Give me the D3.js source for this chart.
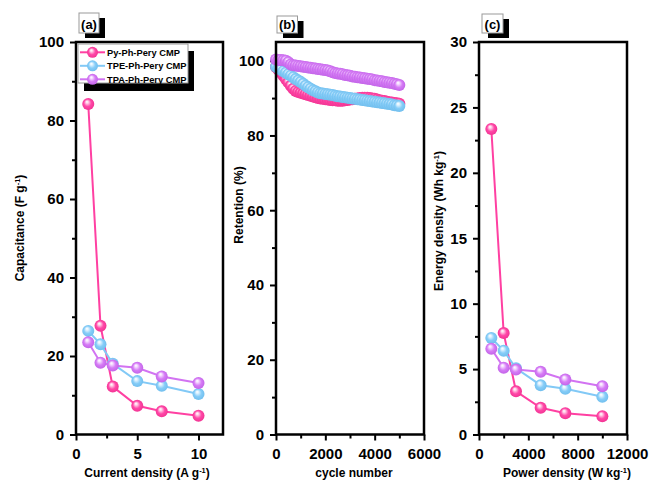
<!DOCTYPE html>
<html>
<head>
<meta charset="utf-8">
<script src="https://cdn.jsdelivr.net/npm/d3@7"></script>
<style>
  body { margin: 0; background: #fff; }
  svg text { font-family: "Liberation Sans", Arial, Helvetica, sans-serif; font-weight: bold; fill: #000; }
</style>
</head>
<body>
<svg id="chart" width="651" height="484"></svg>
<script>
// ---- data ----
const seriesNames = ["Py-Ph-Pery CMP", "TPE-Ph-Pery CMP", "TPA-Ph-Pery CMP"];

// (a) capacitance vs current density
const currentDensity = [1, 2, 3, 5, 7, 10];
const capPy  = [84.2, 27.7, 12.2, 7.3, 5.9, 4.8];
const capTPE = [26.4, 23.0, 18.0, 13.6, 12.4, 10.3];
const capTPA = [23.5, 18.3, 17.6, 17.0, 14.8, 13.1];

// (b) capacity retention over cycling
const cycleNumber = [0, 100, 200, 300, 400, 500, 600, 700, 800, 900,
  1000, 1100, 1200, 1300, 1400, 1500, 1600, 1700, 1800, 1900,
  2000, 2100, 2200, 2300, 2400, 2500, 2600, 2700, 2800, 2900,
  3000, 3100, 3200, 3300, 3400, 3500, 3600, 3700, 3800, 3900,
  4000, 4100, 4200, 4300, 4400, 4500, 4600, 4700, 4800, 4900, 5000];
const retPy = [98.3, 97.6, 96.8, 96.0, 95.1, 94.2, 93.3, 92.5, 91.9, 91.6,
  91.4, 91.2, 91.0, 90.8, 90.6, 90.4, 90.2, 90.0, 89.9, 89.8,
  89.7, 89.6, 89.5, 89.4, 89.4, 89.3, 89.3, 89.3, 89.4, 89.5,
  89.6, 89.7, 89.8, 89.9, 90.0, 90.1, 90.1, 90.1, 90.0, 89.9,
  89.8, 89.6, 89.4, 89.3, 89.2, 89.0, 88.9, 88.8, 88.7, 88.6, 88.5];
const retTPE = [98.4, 98.0, 97.6, 97.2, 96.8, 96.4, 96.0, 95.6, 95.1, 94.7,
  94.3, 93.8, 93.3, 92.9, 92.5, 92.1, 91.8, 91.5, 91.3, 91.2,
  91.1, 91.0, 90.9, 90.8, 90.6, 90.5, 90.4, 90.3, 90.2, 90.1,
  90.0, 89.9, 89.8, 89.7, 89.6, 89.5, 89.4, 89.3, 89.2, 89.1,
  89.0, 88.9, 88.8, 88.7, 88.6, 88.5, 88.4, 88.3, 88.1, 88.0, 87.9];
const retTPA = [100.3, 100.2, 100.2, 100.1, 100.0, 99.6, 99.0, 98.8, 98.7, 98.6,
  98.5, 98.4, 98.3, 98.2, 98.1, 98.0, 97.9, 97.8, 97.7, 97.6,
  97.5, 97.4, 97.2, 96.9, 96.7, 96.6, 96.5, 96.4, 96.2, 96.1,
  96.0, 95.8, 95.7, 95.6, 95.5, 95.4, 95.3, 95.2, 95.1, 95.0,
  94.8, 94.7, 94.6, 94.5, 94.3, 94.2, 94.1, 94.0, 93.8, 93.7, 93.5];

// (c) Ragone data
const powerDensity = [1000, 2000, 3000, 5000, 7000, 10000];
const enPy  = [23.35, 7.75, 3.3, 2.04, 1.63, 1.4];
const enTPE = [7.38, 6.41, 5.06, 3.77, 3.49, 2.88];
const enTPA = [6.56, 5.11, 4.96, 4.79, 4.2, 3.69];

// axis ticks
const capTicks = [0, 20, 40, 60, 80, 100];
const capMinor = [10, 30, 50, 70, 90];
const curTicks = [0, 5, 10];
const curMinor = [2.5, 7.5];
const retTicks = [0, 20, 40, 60, 80, 100];
const retMinor = [10, 30, 50, 70, 90];
const cycTicks = [0, 2000, 4000, 6000];
const cycMinor = [1000, 3000, 5000];
const enTicks = [0, 5, 10, 15, 20, 25, 30];
const enMinor = [2.5, 7.5, 12.5, 17.5, 22.5, 27.5];
const powTicks = [0, 4000, 8000, 12000];
const powMinor = [2000, 6000, 10000];

// ---- styles ----
const palette = [
  { id: "py",  line: "#ff40a2", base: "#ff48a8", dark: "#f0308f", light: "#ffd6ea" },
  { id: "tpe", line: "#82c9f6", base: "#86cdf8", dark: "#6dbcec", light: "#e4f4ff" },
  { id: "tpa", line: "#d273f2", base: "#d67cf6", dark: "#c060e6", light: "#f6e0ff" }
];

const svg = d3.select("#chart");
const defs = svg.append("defs");
palette.forEach(p => {
  const g = defs.append("radialGradient")
    .attr("id", "ball-" + p.id)
    .attr("cx", "50%").attr("cy", "50%").attr("r", "55%")
    .attr("fx", "38%").attr("fy", "30%");
  g.append("stop").attr("offset", "0%").attr("stop-color", "#ffffff");
  g.append("stop").attr("offset", "18%").attr("stop-color", p.light);
  g.append("stop").attr("offset", "55%").attr("stop-color", p.base);
  g.append("stop").attr("offset", "100%").attr("stop-color", p.dark);
});

function superscriptTitle(sel, main, sup, tail) {
  sel.append("tspan").text(main);
  sel.append("tspan").attr("font-size", "0.62em").attr("dy", "-0.55em").text(sup);
  sel.append("tspan").attr("dy", "0.34em").text(tail);
}

function drawPanel(cfg) {
  const g = svg.append("g");
  const x = d3.scaleLinear().domain(cfg.xDomain).range([cfg.x0, cfg.x1]);
  const y = d3.scaleLinear().domain(cfg.yDomain).range([cfg.y1, cfg.y0]);

  // axes: major + minor ticks
  const ax = g.append("g").attr("transform", `translate(0,${cfg.y1})`)
    .call(d3.axisBottom(x).tickValues(cfg.xTicks).tickSize(6).tickPadding(8).tickFormat(d3.format("d")));
  const axm = g.append("g").attr("transform", `translate(0,${cfg.y1})`)
    .call(d3.axisBottom(x).tickValues(cfg.xMinor).tickSize(4).tickFormat(""));
  const ay = g.append("g").attr("transform", `translate(${cfg.x0},0)`)
    .call(d3.axisLeft(y).tickValues(cfg.yTicks).tickSize(6).tickPadding(6).tickFormat(d3.format("d")));
  const aym = g.append("g").attr("transform", `translate(${cfg.x0},0)`)
    .call(d3.axisLeft(y).tickValues(cfg.yMinor).tickSize(4).tickFormat(""));
  [ax, axm, ay, aym].forEach(a => {
    a.select(".domain").remove();
    a.selectAll(".tick line").attr("stroke", "#000").attr("stroke-width", 2);
    a.selectAll(".tick text").attr("font-size", 15).attr("fill", "#000");
  });

  // series: line then balls, drawn in order
  cfg.series.forEach((vals, i) => {
    const p = palette[i];
    const pts = cfg.xVals.map((xv, k) => [xv, vals[k]]);
    g.append("path")
      .attr("d", d3.line().x(d => x(d[0])).y(d => y(d[1]))(pts))
      .attr("fill", "none").attr("stroke", p.line).attr("stroke-width", 2);
    g.append("g").selectAll("circle").data(pts).join("circle")
      .attr("cx", d => x(d[0])).attr("cy", d => y(d[1]))
      .attr("r", cfg.r).attr("fill", `url(#ball-${p.id})`);
  });

  // frame
  g.append("rect")
    .attr("x", cfg.x0).attr("y", cfg.y0)
    .attr("width", cfg.x1 - cfg.x0).attr("height", cfg.y1 - cfg.y0)
    .attr("fill", "none").attr("stroke", "#000").attr("stroke-width", 2.5);

  // titles
  const xt = g.append("text").attr("x", cfg.xTitleX).attr("y", 477)
    .attr("text-anchor", "middle").attr("font-size", 12);
  if (cfg.xTitle.sup) superscriptTitle(xt, cfg.xTitle.main, cfg.xTitle.sup, cfg.xTitle.tail);
  else xt.text(cfg.xTitle.main);

  const yt = g.append("text")
    .attr("transform", `translate(${cfg.yTitlePos[0]},${cfg.yTitlePos[1]}) rotate(-90)`)
    .attr("text-anchor", "middle").attr("font-size", 12).attr("dy", "0.35em");
  if (cfg.yTitle.sup) superscriptTitle(yt, cfg.yTitle.main, cfg.yTitle.sup, cfg.yTitle.tail);
  else yt.text(cfg.yTitle.main);

  // panel tag with drop shadow
  const t = cfg.tag;
  g.append("rect").attr("x", t.x + 6).attr("y", t.y + 5).attr("width", t.w).attr("height", t.h).attr("fill", "#000");
  g.append("rect").attr("x", t.x).attr("y", t.y).attr("width", t.w).attr("height", t.h)
    .attr("fill", "#fff").attr("stroke", "#999").attr("stroke-width", 1);
  g.append("text").attr("x", t.x + t.w / 2).attr("y", t.y + t.h - 4.5)
    .attr("text-anchor", "middle").attr("font-size", 13).text(t.label);
  return g;
}

drawPanel({
  x0: 76, x1: 223, y0: 42, y1: 434.5,
  xDomain: [0, 12], yDomain: [0, 100],
  xTicks: curTicks, xMinor: curMinor, yTicks: capTicks, yMinor: capMinor,
  xVals: currentDensity, series: [capPy, capTPE, capTPA], r: 6,
  xTitle: { main: "Current density (A g", sup: "-1", tail: ")" }, xTitleX: 147,
  yTitle: { main: "Capacitance (F g", sup: "-1", tail: ")" }, yTitlePos: [20, 228],
  tag: { x: 79, y: 13, w: 20, h: 20, label: "(a)" }
});

drawPanel({
  x0: 276, x1: 424, y0: 42, y1: 434.5,
  xDomain: [0, 6000], yDomain: [0, 105],
  xTicks: cycTicks, xMinor: cycMinor, yTicks: retTicks, yMinor: retMinor,
  xVals: cycleNumber, series: [retPy, retTPE, retTPA], r: 6,
  xTitle: { main: "cycle number" }, xTitleX: 354,
  yTitle: { main: "Retention (%)" }, yTitlePos: [238.5, 205],
  tag: { x: 277, y: 16, w: 20.5, h: 17, label: "(b)" }
});

drawPanel({
  x0: 479, x1: 627, y0: 42, y1: 434.5,
  xDomain: [0, 12000], yDomain: [0, 30],
  xTicks: powTicks, xMinor: powMinor, yTicks: enTicks, yMinor: enMinor,
  xVals: powerDensity, series: [enPy, enTPE, enTPA], r: 6,
  xTitle: { main: "Power density (W kg", sup: "-1", tail: ")" }, xTitleX: 567,
  yTitle: { main: "Energy density (Wh kg", sup: "-1", tail: ")" }, yTitlePos: [439, 221],
  tag: { x: 482, y: 14, w: 21, h: 19, label: "(c)" }
});

// legend (panel a)
const lg = svg.append("g");
lg.append("rect").attr("x", 84).attr("y", 51).attr("width", 110).attr("height", 40).attr("fill", "#000");
lg.append("rect").attr("x", 78).attr("y", 44).attr("width", 110).attr("height", 39)
  .attr("fill", "#fff").attr("stroke", "#999").attr("stroke-width", 1);
const legY = d3.scalePoint().domain(seriesNames).range([52.3, 79.3]);
seriesNames.forEach((name, i) => {
  const p = palette[i];
  const yy = legY(name);
  lg.append("line").attr("x1", 80).attr("x2", 105).attr("y1", yy).attr("y2", yy)
    .attr("stroke", p.line).attr("stroke-width", 2);
  lg.append("circle").attr("cx", 92.5).attr("cy", yy).attr("r", 5.5).attr("fill", `url(#ball-${p.id})`);
  lg.append("text").attr("x", 107).attr("y", yy).attr("dy", "0.35em")
    .attr("font-size", 9.3).text(name);
});
</script>
</body>
</html>
